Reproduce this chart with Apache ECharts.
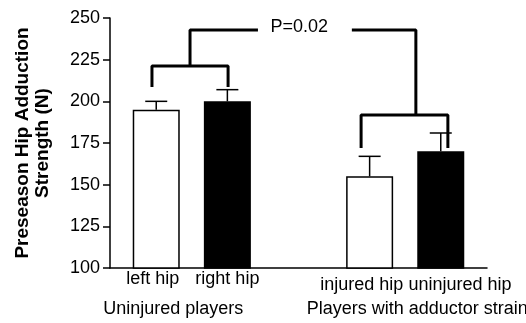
<!DOCTYPE html>
<html>
<head>
<meta charset="utf-8">
<script src="https://cdn.jsdelivr.net/npm/echarts@6/dist/echarts.min.js"></script>
<style>html,body{margin:0;padding:0;background:#fff}#c{width:526px;height:323px}</style>
</head>
<body>
<div id="c"></div>
<script>
// Bar categories and positions on the x scale (gap between groups)
const categories = ['left hip', 'right hip', 'injured hip', 'uninjured hip'];
const catPos = [1, 2, 4, 5];
const means = [195, 200, 155, 170];
const errTops = [200, 207, 167, 181];
const filled = [false, true, false, true];
const yTicks = [100, 125, 150, 175, 200, 225, 250];
// label positions (x scale units)
const labelPos = [0.95, 2.0, 3.89, 5.27];
const groups = ['Uninjured players', 'Players with adductor strain'];
const groupPos = [1.24, 4.67];
// significance brackets (data units)
const bracketLeft = [[0.94, 208.6], [0.94, 221.2], [2.01, 221.2], [2.01, 208.6]];
const stemLeft = [[1.475, 221.2], [1.475, 242.8], [2.43, 242.8]];
const bracketRight = [[3.88, 172], [3.88, 191.8], [5.10, 191.8], [5.10, 172]];
const stemRight = [[4.65, 191.8], [4.65, 242.8], [3.75, 242.8]];
const pText = 'P=0.02';
const pPos = [3.01, 244.6];

const FONT = '"Liberation Sans", Arial, sans-serif';
const chart = echarts.init(document.getElementById('c'), null, {renderer: 'canvas'});

const lineSeries = (pts) => ({
  type: 'line', data: pts, symbol: 'none', silent: true, z: 5,
  lineStyle: {color: '#000', width: 3}, animation: false
});

chart.setOption({
  animation: false,
  grid: {left: 110, right: 39, top: 18, bottom: 55, containLabel: false},
  xAxis: {
    type: 'value', min: 0.35, max: 5.65,
    axisLine: {show: true, lineStyle: {color: '#000', width: 1.5}},
    axisTick: {show: false}, axisLabel: {show: false}, splitLine: {show: false}
  },
  yAxis: {
    type: 'value', min: 100, max: 250, interval: 25,
    axisLine: {show: true, lineStyle: {color: '#000', width: 1.5}},
    axisTick: {show: true, inside: false, length: 7, lineStyle: {color: '#000', width: 1.5}},
    axisLabel: {color: '#000', fontFamily: FONT, fontSize: 18, margin: 10,
      formatter: v => yTicks.includes(v) ? String(v) : ''},
    splitLine: {show: false},
    name: 'Preseason Hip Adduction\nStrength (N)',
    nameLocation: 'middle', nameRotate: 90, nameGap: 57,
    nameTextStyle: {color: '#000', fontFamily: FONT, fontSize: 19, fontWeight: 'bold', lineHeight: 20, align: 'center'}
  },
  series: [
    {
      type: 'bar', barWidth: 47, z: 2,
      data: catPos.map((x, i) => ({
        value: [x, means[i]],
        itemStyle: filled[i] ? {color: '#000', borderColor: '#000', borderWidth: 1.5}
                             : {color: '#fff', borderColor: '#000', borderWidth: 1.5}
      }))
    },
    {
      type: 'custom', z: 3,
      data: catPos.map((x, i) => [x, means[i], errTops[i]]),
      renderItem: (params, api) => {
        const b = api.coord([api.value(0), api.value(1)]);
        const t = api.coord([api.value(0), api.value(2)]);
        const st = {stroke: '#000', lineWidth: 1.5};
        return {type: 'group', children: [
          {type: 'line', shape: {x1: b[0], y1: b[1], x2: t[0], y2: t[1]}, style: st},
          {type: 'line', shape: {x1: t[0] - 11, y1: t[1], x2: t[0] + 11, y2: t[1]}, style: st}
        ]};
      }
    },
    lineSeries(bracketLeft), lineSeries(stemLeft), lineSeries(bracketRight), lineSeries(stemRight),
    {
      type: 'custom', z: 6,
      data: [[pPos[0], pPos[1]]],
      renderItem: (params, api) => {
        const p = api.coord([api.value(0), api.value(1)]);
        return {type: 'text', x: p[0], y: p[1], style: {text: pText, fill: '#000',
          font: '18px ' + FONT, textAlign: 'center', textVerticalAlign: 'middle'}};
      }
    },
    {
      type: 'custom', z: 6,
      data: labelPos.map((x, i) => [x, i]),
      renderItem: (params, api) => {
        const i = api.value(1);
        const p = api.coord([api.value(0), 100]);
        const dy = i < 2 ? 11 : 17;
        return {type: 'text', x: p[0], y: p[1] + dy, style: {text: categories[i], fill: '#000',
          font: '18px ' + FONT, textAlign: 'center', textVerticalAlign: 'middle'}};
      }
    },
    {
      type: 'custom', z: 6,
      data: groupPos.map((x, i) => [x, i]),
      renderItem: (params, api) => {
        const i = api.value(1);
        const p = api.coord([api.value(0), 100]);
        return {type: 'text', x: p[0], y: p[1] + 41, style: {text: groups[i], fill: '#000',
          font: '18px ' + FONT, textAlign: 'center', textVerticalAlign: 'middle'}};
      }
    }
  ]
});
</script>
</body>
</html>
